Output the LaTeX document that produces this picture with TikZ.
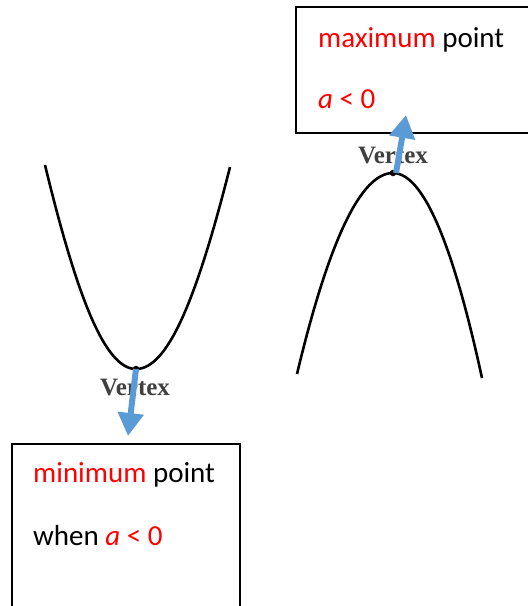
\documentclass[tikz,border=0pt]{standalone}
\usepackage{fontspec}
\setmainfont{Carlito}
\newfontfamily\vtxfont{Liberation Serif}
\usetikzlibrary{arrows.meta}
\definecolor{arrowblue}{RGB}{91,155,213}
\definecolor{txtred}{RGB}{255,0,0}
\tikzset{
  curve/.style={line width=2.6pt, black},
  infobox/.style={draw=black, line width=1.5pt},
  boxtext/.style={anchor=base west, inner sep=0pt, font=\fontsize{29}{32}\selectfont},
  vtxlabel/.style={anchor=base, inner sep=0pt, text=black!75, font=\vtxfont\bfseries\fontsize{25}{27}\selectfont},
  vtxdot/.style={fill=black, circle, inner sep=0pt, minimum size=6.5pt},
  bluearrow/.style={draw=arrowblue, line width=6pt, -{Triangle[width=25pt,length=23pt]}, arrowblue}
}
\begin{document}
\begin{tikzpicture}[x=1pt,y=-1pt]
\useasboundingbox (0,0) rectangle (528,606);
\begin{scope}
\clip (0,0) rectangle (528,606);
% boxes
\draw[infobox] (296,7) rectangle (540,133);
\draw[infobox] (12,444) rectangle (240,620);
% left parabola (minimum)
\draw[curve] (45,165) .. controls (78,301) and (105.7,369) .. (136,369)
              .. controls (167.3,369) and (196,301.7) .. (230,167);
% right parabola (maximum)
\draw[curve] (297,374) .. controls (329,240) and (361,173) .. (393,173)
              .. controls (422.7,173) and (452.3,241.3) .. (482,378);
\node[vtxdot] (vmin) at (136,369) {};
\node[vtxdot] (vmax) at (393,173) {};
% vertex labels
\node[vtxlabel] (lblmin) at (135,395) {Vertex};
\node[vtxlabel] (lblmax) at (393,163) {Vertex};
% arrows
\coordinate (tipmin) at (128,436);
\coordinate (tipmax) at (406,115);
\draw[bluearrow] (vmin.center) -- (tipmin);
\draw[bluearrow] ([xshift=3pt]vmax.center) -- (tipmax);
% texts
\node[boxtext] (maxt) at (318,47) {\textcolor{txtred}{maximum} point};
\node[boxtext] (maxa) at (318,108) {\textcolor{txtred}{\textit{a} < 0}};
\node[boxtext] (mint) at (33,482) {\textcolor{txtred}{minimum} point};
\node[boxtext] (mina) at (33,545) {when \textcolor{txtred}{\textit{a} < 0}};
\end{scope}
\end{tikzpicture}
\end{document}
